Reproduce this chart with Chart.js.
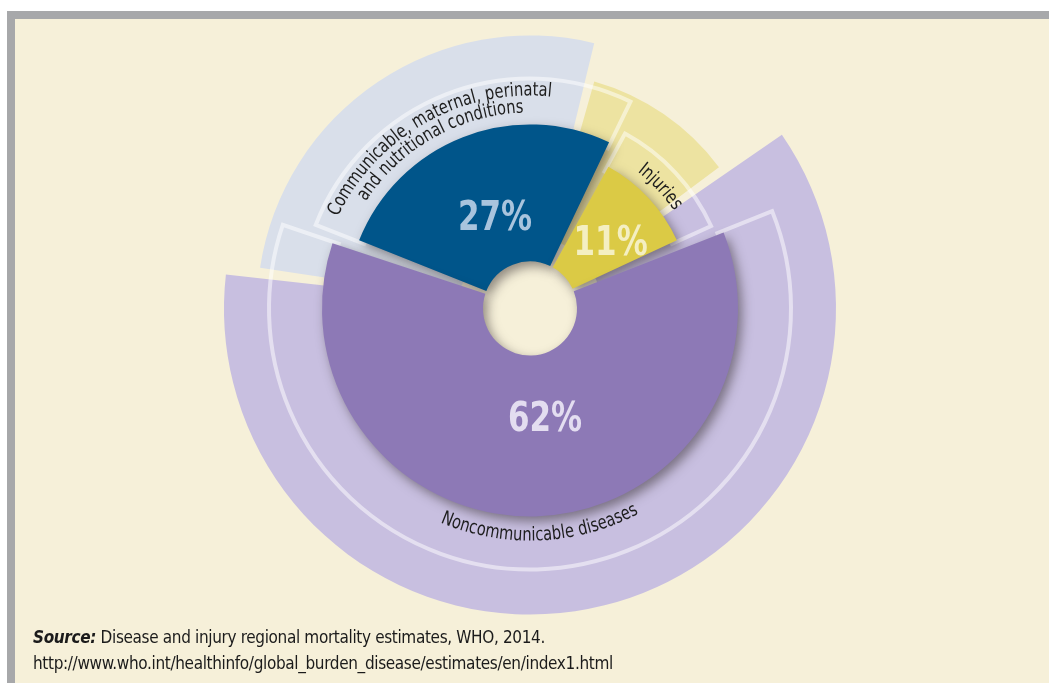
<!DOCTYPE html>
<html>
<head>
<meta charset="utf-8">
<title>Deaths by broad cause group</title>
<script src="https://cdn.jsdelivr.net/npm/chart.js@4.4.1/dist/chart.umd.min.js"></script>
<style>
    html, body { margin: 0; padding: 0; width: 1049px; height: 683px; overflow: hidden; background: #ffffff; }
    .panel {
        position: absolute; left: 7px; top: 11px; right: 0; bottom: 0;
        background: #f6f0d9;
        border-left: 8px solid #a7a8aa;
        border-top: 8px solid #a7a8aa;
    }
    #causeChart { position: absolute; left: 0; top: 0; }
    .source {
        position: absolute; left: 33px; top: 624px;
        font-family: 'Liberation Sans Narrow', 'DejaVu Sans Condensed', sans-serif;
        font-size: 17px; line-height: 26px; color: #1b1b1b;
        letter-spacing: -0.35px;
    }
    .source b { font-style: italic; }
</style>
</head>
<body>
<div class="panel"></div>
<canvas id="causeChart" width="1049" height="683"></canvas>
<div class="source"><b>Source:</b> Disease and injury regional mortality estimates, WHO, 2014.<br>http://www.who.int/healthinfo/global_burden_disease/estimates/en/index1.html</div>

<script>
// Data
const categories = ['Communicable, maternal, perinatal and nutritional conditions', 'Injuries', 'Noncommunicable diseases'];
const shares = [27, 11, 62];
const nameLines = [
    ['Communicable, maternal, perinatal', 'and nutritional conditions'],
    ['Injuries'],
    ['Noncommunicable diseases']
];

// Look
const solidColors = ['#00558a', '#dbca45', '#8d79b6'];
const haloColors = ['#d9dfea', '#ede3a1', '#c8bfe0'];
const pctColors = ['#a9c4dd', '#f4efc2', '#e3ddf0'];
const sectorRadius = [184, 162, 208];
const outlineRadius = [230, 199, 261];
const haloRadius = [273, 236, 306];
const holeRadius = 47;
const haloInner = 72;
const startAngle = -70;      // degrees from 12 o'clock
const haloTurn = -12.5;      // halos sit rotated against the slices
const trim = { halo: 1.1, outline: 1.3, sector: 1.75 };   // degrees cut off each side

// label placement, relative to each slice
const pctRadius = [96, 103, 113];
const pctTurn = [0, 4.5, -6];
const nameRadius = [[213, 196], [174], [232]];
const nameTurn = [-8, 0, -1];
const nameFlip = [false, false, true];

const narrow = "'Liberation Sans Narrow', 'DejaVu Sans Condensed', sans-serif";
const squeeze = 0.86;   // fake a condensed face

// letters placed one by one along a circle
function textOnArc(ctx, text, cx, cy, radius, centre, flip) {
    const dir = flip ? -1 : 1;
    const total = ctx.measureText(text).width * squeeze;
    let angle = centre - dir * total / 2 / radius;
    for (const ch of text) {
        const w = ctx.measureText(ch).width * squeeze;
        const a = angle + dir * w / 2 / radius;
        ctx.save();
        ctx.translate(cx + radius * Math.cos(a), cy + radius * Math.sin(a));
        ctx.rotate(flip ? a - Math.PI / 2 : a + Math.PI / 2);
        ctx.scale(squeeze, 1);
        ctx.fillText(ch, 0, 0);
        ctx.restore();
        angle += dir * w / radius;
    }
}

// Shapes: every layer gets its own radius per slice
const ringShapes = {
    id: 'ringShapes',
    afterDatasetsUpdate(chart) {
        chart.data.datasets.forEach((ds, d) => {
            const meta = chart.getDatasetMeta(d);
            const radius = ds.layer === 'halo' ? haloRadius : ds.layer === 'outline' ? outlineRadius : sectorRadius;
            const cut = trim[ds.layer] * Math.PI / 180;
            meta.data.forEach((arc, i) => {
                arc.innerRadius = ds.layer === 'halo' ? haloInner : ds.layer === 'outline' ? sectorRadius[i] - 6 : holeRadius;
                arc.outerRadius = radius[i];
                arc.startAngle += cut;
                arc.endAngle -= cut;
                arc.circumference = arc.endAngle - arc.startAngle;
            });
        });
    },
    beforeDatasetDraw(chart, args) {
        if (chart.data.datasets[args.index].layer !== 'sector') return;
        const ctx = chart.ctx;
        ctx.save();
        ctx.shadowColor = 'rgba(45, 38, 40, 0.5)';
        ctx.shadowBlur = 11;
        ctx.shadowOffsetX = 4;
        ctx.shadowOffsetY = 5;
    },
    afterDatasetDraw(chart, args) {
        if (chart.data.datasets[args.index].layer === 'sector') chart.ctx.restore();
    },
    afterDraw(chart) {
        const ctx = chart.ctx;
        const idx = chart.data.datasets.findIndex(ds => ds.layer === 'sector');
        const arcs = chart.getDatasetMeta(idx).data;
        arcs.forEach((arc, i) => {
            const mid = (arc.startAngle + arc.endAngle) / 2;

            // share in the slice
            const a = mid + pctTurn[i] * Math.PI / 180;
            ctx.save();
            ctx.translate(arc.x + pctRadius[i] * Math.cos(a), arc.y + pctRadius[i] * Math.sin(a));
            ctx.scale(squeeze, 1);
            ctx.font = 'bold 40px ' + narrow;
            ctx.fillStyle = pctColors[i];
            ctx.textAlign = 'center';
            ctx.textBaseline = 'middle';
            ctx.fillText(shares[i] + '%', 0, 0);
            ctx.restore();

            // cause name bent round the slice
            ctx.save();
            ctx.font = '19px ' + narrow;
            ctx.fillStyle = '#1d1d1d';
            ctx.textAlign = 'center';
            ctx.textBaseline = 'alphabetic';
            nameLines[i].forEach((line, k) => {
                textOnArc(ctx, line, arc.x, arc.y, nameRadius[i][k], mid + nameTurn[i] * Math.PI / 180, nameFlip[i]);
            });
            ctx.restore();
        });
    }
};

document.addEventListener('DOMContentLoaded', function() {
    const ctx = document.getElementById('causeChart');
    new Chart(ctx, {
        type: 'doughnut',
        data: {
            labels: categories,
            datasets: [
                {
                    layer: 'halo',
                    data: shares,
                    backgroundColor: haloColors,
                    borderWidth: 0,
                    rotation: startAngle + haloTurn,
                    order: 3
                },
                {
                    layer: 'outline',
                    data: shares,
                    backgroundColor: 'rgba(0,0,0,0)',
                    borderColor: 'rgba(255,255,255,0.5)',
                    borderWidth: 4,
                    borderJoinStyle: 'miter',
                    rotation: startAngle,
                    order: 2
                },
                {
                    layer: 'sector',
                    data: shares,
                    backgroundColor: solidColors,
                    borderWidth: 0,
                    rotation: startAngle,
                    order: 1
                }
            ]
        },
        options: {
            responsive: false,
            animation: false,
            events: [],
            layout: { padding: { left: 11, right: 0, top: 0, bottom: 66 } },
            plugins: {
                legend: { display: false },
                tooltip: { enabled: false }
            }
        },
        plugins: [ringShapes]
    });
});
</script>
</body>
</html>
